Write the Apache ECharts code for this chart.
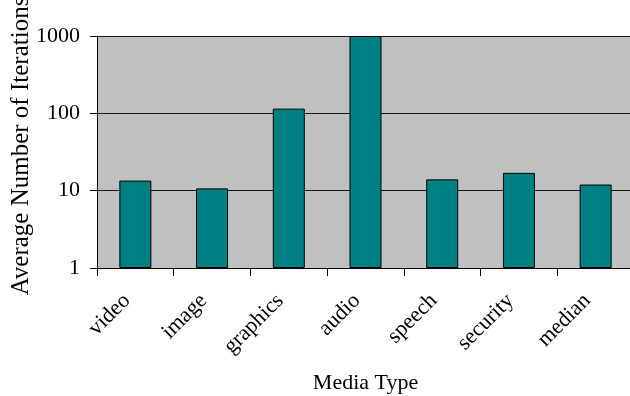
<!DOCTYPE html>
<html>
<head>
<meta charset="utf-8">
<script src="https://cdn.jsdelivr.net/npm/echarts@6/dist/echarts.min.js"></script>
<style>
  html, body { margin: 0; padding: 0; background: #fff; }
  #chart { width: 630px; height: 396px; }
</style>
</head>
<body>
<div id="chart"></div>
<script>
// Media types on the category axis
const categories = ['video', 'image', 'graphics', 'audio', 'speech', 'security', 'median'];
// Average number of iterations per media type (log scale)
const iterations = [13.5, 10.7, 115, 1000, 14, 17, 12];
// Axis titles
const xTitle = 'Media Type';
const yTitle = 'Average Number of Iterations';

const serif = '"Liberation Serif", "Times New Roman", serif';

function draw() {
  const chart = echarts.init(document.getElementById('chart'), null, { renderer: 'canvas' });
  chart.setOption({
    animation: false,
    backgroundColor: '#ffffff',
    grid: {
      left: 97, top: 36, bottom: 128, width: 537,
      outerBoundsMode: 'none',
      containLabel: false,
      show: true, backgroundColor: '#c0c0c0', borderWidth: 0
    },
    xAxis: {
      type: 'category',
      data: categories,
      boundaryGap: true,
      name: xTitle,
      nameLocation: 'middle',
      nameGap: 104,
      nameTextStyle: { fontFamily: serif, fontSize: 22, color: '#000' },
      axisLine: { show: true, lineStyle: { color: '#000', width: 1 } },
      axisTick: { show: true, alignWithLabel: false, length: 8, lineStyle: { color: '#000' } },
      axisLabel: {
        rotate: 45, margin: 21, interval: 0,
        padding: [0, 12, 0, 0],
        fontFamily: serif, fontSize: 22, color: '#000'
      },
      splitLine: { show: false }
    },
    yAxis: {
      type: 'log',
      logBase: 10,
      min: 1,
      max: 1000,
      axisLine: { show: true, onZero: false, lineStyle: { color: '#000', width: 1 } },
      axisTick: { show: true, length: 7, lineStyle: { color: '#000' } },
      axisLabel: {
        margin: 17, fontFamily: serif, fontSize: 22, color: '#000',
        formatter: (v) => String(Math.round(v))
      },
      splitLine: { show: true, lineStyle: { color: '#1a1a1a', width: 1 } }
    },
    graphic: [{
      type: 'text',
      x: 21,
      y: 146,
      rotation: Math.PI / 2,
      style: {
        text: yTitle,
        font: '25px ' + serif,
        fill: '#000',
        align: 'center',
        verticalAlign: 'middle'
      }
    }],
    series: [{
      type: 'bar',
      data: iterations,
      barWidth: 32,
      itemStyle: { color: '#008080', borderColor: '#000', borderWidth: 1 }
    }]
  });
}

// Make sure the serif face is ready before the canvas measures text
if (document.fonts && document.fonts.load) {
  Promise.all([
    document.fonts.load('22px "Liberation Serif"'),
    document.fonts.load('25px "Liberation Serif"')
  ]).then(draw, draw);
} else {
  draw();
}
</script>
</body>
</html>
